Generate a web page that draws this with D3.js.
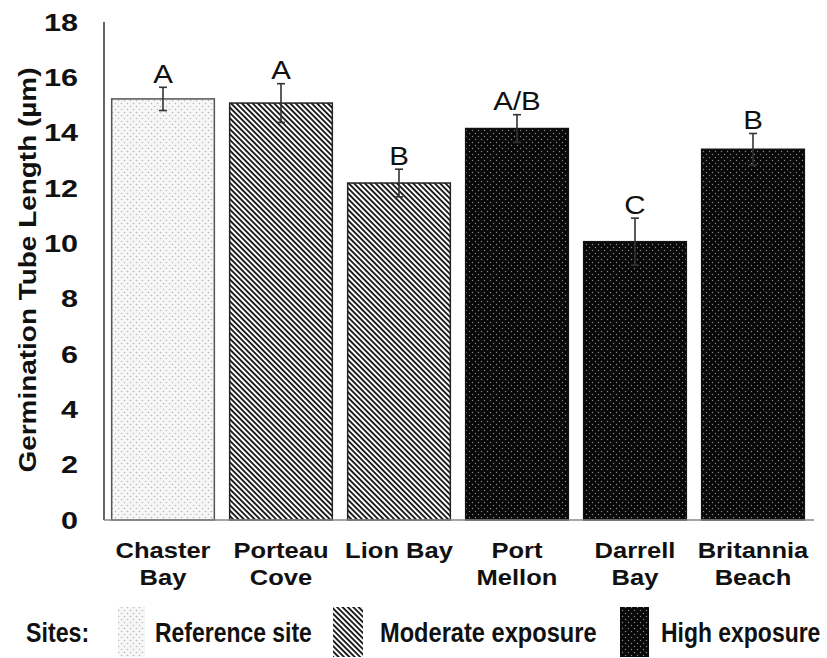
<!DOCTYPE html>
<html><head><meta charset="utf-8">
<script src="https://cdn.jsdelivr.net/npm/d3@7"></script>
<style>body{margin:0;background:#fff}svg{display:block}text{font-family:"Liberation Sans",Arial,sans-serif}</style>
</head><body>
<script>
const categories = [["Chaster","Bay"],["Porteau","Cove"],["Lion Bay"],["Port","Mellon"],["Darrell","Bay"],["Britannia","Beach"]];
const values = [15.22, 15.07, 12.18, 14.15, 10.06, 13.40];
const errors = [0.42, 0.70, 0.50, 0.50, 0.85, 0.57];
const letters = ["A","A","B","A/B","C","B"];
const groups = ["ref","mod","mod","high","high","high"];
const yTicks = [0,2,4,6,8,10,12,14,16,18];
const legendItems = [["ref","Reference site"],["mod","Moderate exposure"],["high","High exposure"]];

const W=827,H=658;
const svg=d3.select("body").append("svg").attr("width",W).attr("height",H);
const defs=svg.append("defs");
// patterns
const pRef=defs.append("pattern").attr("id","ref").attr("patternUnits","userSpaceOnUse").attr("width",6).attr("height",6);
pRef.append("rect").attr("width",6).attr("height",6).attr("fill","#f7f7f7");
pRef.append("circle").attr("cx",1.5).attr("cy",1.5).attr("r",0.8).attr("fill","#b8b8b8");
pRef.append("circle").attr("cx",4.5).attr("cy",4.5).attr("r",0.8).attr("fill","#b8b8b8");
const pMod=defs.append("pattern").attr("id","mod").attr("patternUnits","userSpaceOnUse").attr("width",3.8).attr("height",3.8).attr("patternTransform","rotate(45)");
pMod.append("rect").attr("width",3.8).attr("height",3.8).attr("fill","#fff");
pMod.append("rect").attr("width",3.8).attr("height",1.8).attr("fill","#111");
const pHigh=defs.append("pattern").attr("id","high").attr("patternUnits","userSpaceOnUse").attr("width",6).attr("height",6);
pHigh.append("rect").attr("width",6).attr("height",6).attr("fill","#080808");
pHigh.append("circle").attr("cx",1.5).attr("cy",1.5).attr("r",0.7).attr("fill","#8a8a8a");
pHigh.append("circle").attr("cx",4.5).attr("cy",4.5).attr("r",0.7).attr("fill","#8a8a8a");
const strokes={ref:"#555",mod:"#222",high:"#111"};

const x=d3.scaleBand().domain(d3.range(values.length)).range([104,812]).paddingInner(0.13).paddingOuter(0.065);
const y=d3.scaleLinear().domain([0,18]).range([520,22]);

function fit(sel,f){sel.each(function(){const w=this.getComputedTextLength();d3.select(this).attr("textLength",w*f).attr("lengthAdjust","spacingAndGlyphs");});}

// bars
svg.selectAll("rect.bar").data(values).join("rect").attr("class","bar")
 .attr("x",(d,i)=>x(i)).attr("width",x.bandwidth())
 .attr("y",d=>y(d)).attr("height",d=>y(0)-y(d))
 .attr("fill",(d,i)=>`url(#${groups[i]})`).attr("stroke",(d,i)=>strokes[groups[i]]).attr("stroke-width",1.5);

// error bars
const eb=svg.append("g").attr("stroke","#333").attr("stroke-width",1.6);
values.forEach((v,i)=>{const cx=x(i)+x.bandwidth()/2;
 eb.append("line").attr("x1",cx).attr("x2",cx).attr("y1",y(v+errors[i])).attr("y2",y(v-errors[i]));
 eb.append("line").attr("x1",cx-4).attr("x2",cx+4).attr("y1",y(v+errors[i])).attr("y2",y(v+errors[i]));
 eb.append("line").attr("x1",cx-4).attr("x2",cx+4).attr("y1",y(v-errors[i])).attr("y2",y(v-errors[i]));
});
// letters
svg.selectAll("text.let").data(letters).join("text").attr("class","let")
 .attr("x",(d,i)=>x(i)+x.bandwidth()/2).attr("y",(d,i)=>y(values[i]+errors[i])-4.5)
 .attr("text-anchor","middle").attr("font-size",25).attr("fill","#111").text(d=>d).call(fit,1.18);

// axes lines
svg.append("line").attr("x1",104).attr("x2",104).attr("y1",y(18)).attr("y2",y(0)).attr("stroke","#666").attr("stroke-width",2);
svg.append("line").attr("x1",104).attr("x2",814).attr("y1",y(0)).attr("y2",y(0)).attr("stroke","#888").attr("stroke-width",1.5);

// y ticks
const yAxis=d3.axisLeft(y).tickValues(yTicks).tickSize(0).tickPadding(26);
const ga=svg.append("g").attr("transform","translate(104,0)").call(yAxis);
ga.select(".domain").remove();
ga.selectAll("text").attr("font-size",23).attr("font-weight","bold").attr("fill","#111")
 .attr("font-family",'"Liberation Sans",Arial,sans-serif').attr("dy","0.36em").call(fit,1.33);

// y title
svg.append("text").attr("transform",`translate(36,${270}) rotate(-90)`).attr("text-anchor","middle")
 .attr("font-size",24).attr("font-weight","bold").attr("fill","#111").text("Germination Tube Length (µm)")
 .attr("textLength",405).attr("lengthAdjust","spacingAndGlyphs");

// x labels
categories.forEach((lines,i)=>{const t=svg.append("text").attr("text-anchor","middle").attr("font-size",22).attr("font-weight","bold").attr("fill","#111");
 lines.forEach((l,j)=>t.append("tspan").attr("x",x(i)+x.bandwidth()/2).attr("y",558+j*27).text(l));
 t.selectAll("tspan").call(fit,1.16);
});

// legend (layout) - condensed bold text via horizontal scale
const legSwX=[118,333,620], legSwW=[27,30,29], legTxX=[155,380,661];
const lg=svg.append("g");
lg.append("text").attr("transform","translate(26,642) scale(0.86,1)").attr("font-size",27).attr("font-weight","bold").attr("fill","#111").text("Sites:");
legendItems.forEach(([g,label],k)=>{
 lg.append("rect").attr("x",legSwX[k]).attr("y",607).attr("width",legSwW[k]).attr("height",50).attr("fill",`url(#${g})`);
 lg.append("text").attr("transform",`translate(${legTxX[k]},642) scale(${k==1?0.875:0.85},1)`).attr("font-size",27).attr("font-weight","bold").attr("fill","#111").text(label);
});
</script>
</body></html>
